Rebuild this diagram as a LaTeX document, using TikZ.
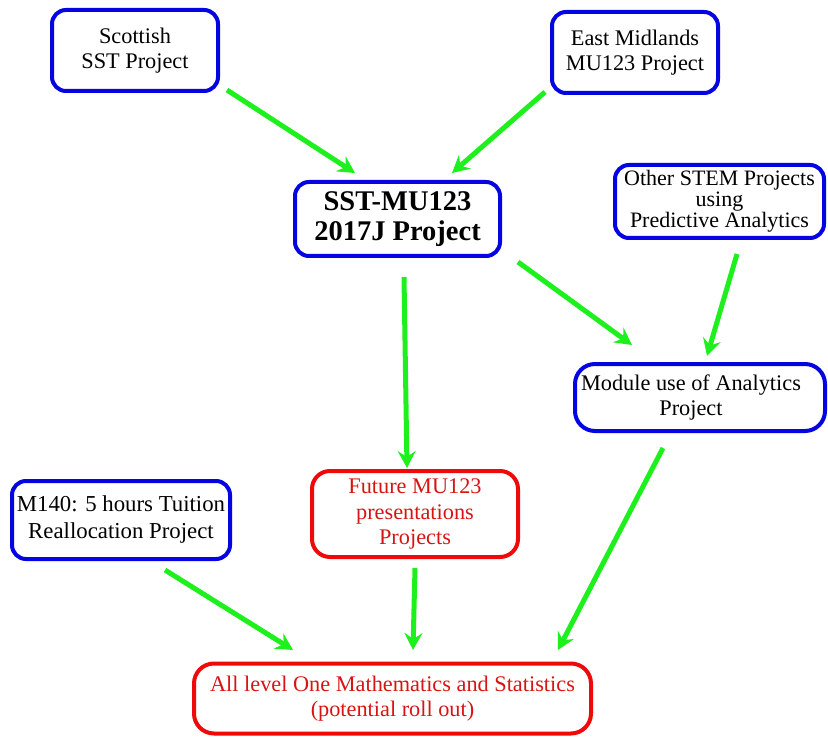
\documentclass[tikz,border=0pt]{standalone}
\usepackage{fontspec}
\setmainfont{Liberation Serif}
\usetikzlibrary{arrows.meta}
\definecolor{bline}{RGB}{5,5,225}
\definecolor{rline}{RGB}{238,10,10}
\definecolor{rtext}{RGB}{215,20,20}
\definecolor{gline}{RGB}{30,240,30}
\tikzset{
  box/.style={draw=bline, line width=4pt, rounded corners=14pt, align=center,
    font=\fontsize{22.3}{25.5}\selectfont, inner sep=0pt},
  rbox/.style={box, draw=rline, text=rtext},
  arr/.style={draw=gline, line width=5pt, -{Stealth[length=17pt,width=18pt,inset=6pt]}},
}
\begin{document}
\begin{tikzpicture}[x=1pt,y=-1pt]
\useasboundingbox (0,0) rectangle (828,738);
\node[box, minimum width=166, minimum height=81] (scot) at (135,50.5) {Scottish\\SST Project};
\node[box, minimum width=166, minimum height=81] (east) at (635,52.5) {East Midlands\\MU123 Project};
\node[box, minimum width=205, minimum height=74, font=\bfseries\fontsize{28.5}{30}\selectfont] (sst) at (397.5,219) {SST-MU123\\2017J Project};
\node[box, minimum width=209, minimum height=73, font=\fontsize{22}{21}\selectfont] (stem) at (719.5,201.5) {Other STEM Projects\\using\\Predictive Analytics};
\node[box, minimum width=250, minimum height=67, rounded corners=20pt] (mod) at (700,397.5) {Module use of Analytics\hspace*{18pt}\\Project\hspace*{18pt}};
\node[box, minimum width=218, minimum height=78, font=\fontsize{22.8}{27}\selectfont] (m140) at (121,520) {M140: 5 hours Tuition\\Reallocation Project};
\node[rbox, minimum width=206, minimum height=86, rounded corners=18pt] (fut) at (415,514) {Future MU123\\presentations\\Projects};
\node[rbox, minimum width=397, minimum height=70, rounded corners=20pt] (all) at (392.5,698.5) {All level One Mathematics and Statistics\\(potential roll out)};
\coordinate (a1s) at (227,90);  \coordinate (a1e) at (355,173);
\coordinate (a2s) at (545,92);  \coordinate (a2e) at (452,173);
\coordinate (a3s) at (518,262); \coordinate (a3e) at (632,345);
\coordinate (a4s) at (737,254); \coordinate (a4e) at (707,356);
\coordinate (a5s) at (404,277); \coordinate (a5e) at (407,468);
\coordinate (a6s) at (165,570); \coordinate (a6e) at (293,650);
\coordinate (a7s) at (415,568); \coordinate (a7e) at (413,650);
\coordinate (a8s) at (663,448); \coordinate (a8e) at (558,650);
\draw[arr] (a1s) -- (a1e);
\draw[arr] (a2s) -- (a2e);
\draw[arr] (a3s) -- (a3e);
\draw[arr] (a4s) -- (a4e);
\draw[arr] (a5s) -- (a5e);
\draw[arr] (a6s) -- (a6e);
\draw[arr] (a7s) -- (a7e);
\draw[arr] (a8s) -- (a8e);
\end{tikzpicture}
\end{document}
